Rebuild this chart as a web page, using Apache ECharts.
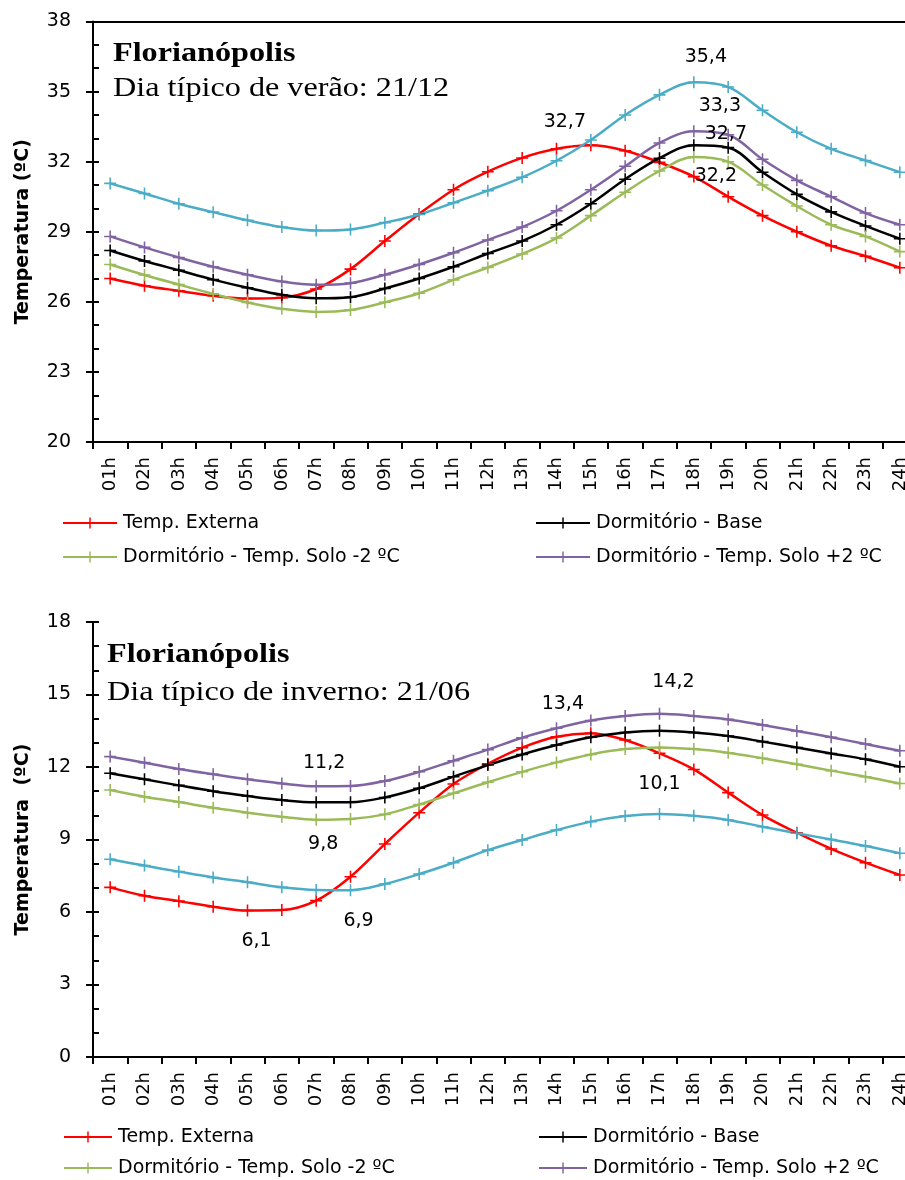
<!DOCTYPE html>
<html>
<head>
<meta charset="utf-8">
<script src="https://cdn.jsdelivr.net/npm/echarts@6/dist/echarts.min.js"></script>
<style>
  html, body { margin: 0; padding: 0; background: #fff; overflow: hidden; }
  #chart { width: 930px; height: 1180px; }
</style>
</head>
<body>
<div id="chart"></div>
<script>
// Hourly categories shared by both panels
const hours = ['01h','02h','03h','04h','05h','06h','07h','08h','09h','10h','11h','12h',
               '13h','14h','15h','16h','17h','18h','19h','20h','21h','22h','23h','24h'];

// Summer typical day (21/12), °C
const verExterna  = [27.0, 26.69, 26.47, 26.26, 26.14, 26.18, 26.55, 27.4, 28.6, 29.76, 30.8, 31.57,
                     32.16, 32.55, 32.7, 32.47, 31.97, 31.36, 30.5, 29.69, 29.0, 28.4, 27.95, 27.46];
const verBase     = [28.2, 27.75, 27.35, 26.95, 26.6, 26.3, 26.15, 26.2, 26.57, 27.0, 27.5, 28.07,
                     28.6, 29.3, 30.2, 31.25, 32.15, 32.7, 32.6, 31.55, 30.6, 29.85, 29.25, 28.7];
const verSoloM2   = [27.6, 27.15, 26.74, 26.34, 25.97, 25.7, 25.57, 25.65, 25.98, 26.37, 26.94, 27.47,
                     28.05, 28.73, 29.69, 30.69, 31.6, 32.2, 32.0, 31.0, 30.1, 29.3, 28.8, 28.15];
const verSoloP2   = [28.8, 28.33, 27.9, 27.5, 27.16, 26.87, 26.73, 26.8, 27.16, 27.6, 28.1, 28.65,
                     29.2, 29.9, 30.8, 31.8, 32.8, 33.3, 33.15, 32.1, 31.2, 30.5, 29.8, 29.3];
const verSerie5   = [31.07, 30.64, 30.2, 29.84, 29.49, 29.2, 29.05, 29.1, 29.39, 29.74, 30.24, 30.76,
                     31.33, 32.04, 32.93, 34.0, 34.86, 35.4, 35.2, 34.2, 33.26, 32.55, 32.05, 31.55];

// Winter typical day (21/06), °C
const invExterna  = [7.02, 6.67, 6.45, 6.22, 6.06, 6.08, 6.47, 7.46, 8.81, 10.11, 11.3, 12.13,
                     12.8, 13.25, 13.4, 13.12, 12.57, 11.9, 10.94, 10.01, 9.28, 8.61, 8.04, 7.53];
const invBase     = [11.74, 11.49, 11.24, 11.0, 10.8, 10.63, 10.54, 10.54, 10.74, 11.12, 11.6, 12.08,
                     12.52, 12.91, 13.23, 13.43, 13.5, 13.43, 13.28, 13.05, 12.81, 12.56, 12.32, 12.01];
const invSoloM2   = [11.05, 10.77, 10.55, 10.31, 10.11, 9.94, 9.82, 9.85, 10.04, 10.45, 10.91, 11.37,
                     11.8, 12.19, 12.52, 12.74, 12.81, 12.74, 12.59, 12.36, 12.11, 11.85, 11.6, 11.32];
const invSoloP2   = [12.43, 12.18, 11.92, 11.7, 11.49, 11.32, 11.2, 11.21, 11.42, 11.8, 12.26, 12.72,
                     13.21, 13.6, 13.92, 14.11, 14.2, 14.11, 13.97, 13.74, 13.49, 13.23, 12.95, 12.67];
const invSerie5   = [8.18, 7.92, 7.67, 7.43, 7.23, 7.02, 6.91, 6.9, 7.16, 7.57, 8.04, 8.56,
                     8.98, 9.39, 9.74, 9.97, 10.06, 9.98, 9.81, 9.53, 9.26, 9.0, 8.73, 8.43];

// Y-axis ticks
const verTicks = [20, 23, 26, 29, 32, 35, 38];
const invTicks = [0, 3, 6, 9, 12, 15, 18];

const names = {
  ext: 'Temp. Externa',
  base: 'Dormitório - Base',
  m2: 'Dormitório - Temp. Solo -2 ºC',
  p2: 'Dormitório - Temp. Solo +2 ºC',
  s5: 'Série 5'
};
const colors = { ext: '#ff0000', base: '#000000', m2: '#9bbb59', p2: '#8064a2', s5: '#4bacc6' };

const FONT = 'DejaVu Sans';
const plus = 'path://M4.35,0H5.65V4.35H10V5.65H5.65V10H4.35V5.65H0V4.35H4.35Z';

// Which points carry a value label, and how the label sits
const verLabels = {
  s5:   [{ hour: '18h', pos: 'top', offset: [12, -5] }],
  p2:   [{ hour: '18h', pos: 'top', offset: [26, -5] }],
  base: [{ hour: '18h', pos: 'top', offset: [32, 9] }],
  m2:   [{ hour: '18h', pos: 'bottom', offset: [22, -1] }],
  ext:  [{ hour: '15h', pos: 'top', offset: [-26, -3] }]
};
const invLabels = {
  ext:  [{ hour: '15h', pos: 'top', offset: [-28, -9] }, { hour: '05h', pos: 'bottom', offset: [9, 10] }],
  p2:   [{ hour: '17h', pos: 'top', offset: [14, -11] }, { hour: '07h', pos: 'top', offset: [8, -3] }],
  s5:   [{ hour: '17h', pos: 'top', offset: [0, -9] }, { hour: '08h', pos: 'bottom', offset: [8, 10] }],
  m2:   [{ hour: '07h', pos: 'bottom', offset: [7, 4] }]
};

const fmt = v => v.toFixed(1).replace('.', ',');

function buildData(values, specs) {
  return values.map((v, i) => {
    const spec = (specs || []).find(s => s.hour === hours[i]);
    if (!spec) return v;
    return {
      value: v,
      label: {
        show: true, position: spec.pos, offset: spec.offset,
        formatter: p => fmt(p.value),
        fontFamily: FONT, fontSize: 19, color: '#000'
      }
    };
  });
}

function makeSeries(key, values, specs, gridIdx) {
  return {
    type: 'line',
    name: names[key],
    xAxisIndex: gridIdx * 2,
    yAxisIndex: gridIdx * 2,
    data: buildData(values, specs),
    smooth: 0.35,
    symbol: plus,
    symbolSize: 12,
    showAllSymbol: true,
    lineStyle: { color: colors[key], width: 2.5 },
    itemStyle: { color: colors[key] },
    emphasis: { disabled: true },
    animation: false,
    z: 3
  };
}

const grids = [
  { left: 93, top: 21.5, width: 824, height: 420.5 },
  { left: 93, top: 622, width: 824, height: 435 }
];

function xAxes(gridIdx) {
  return [
    {
      type: 'category', data: hours, gridIndex: gridIdx, position: 'bottom',
      boundaryGap: true,
      axisLine: { lineStyle: { color: '#000', width: 2 } },
      axisTick: { show: true, length: 7, lineStyle: { color: '#000', width: 2 } },
      axisLabel: { rotate: 90, margin: 15, fontFamily: FONT, fontSize: 18, color: '#000', interval: 0 },
      splitLine: { show: false }
    },
    {
      type: 'category', data: hours, gridIndex: gridIdx, position: 'top',
      axisLine: { lineStyle: { color: '#000', width: 2 } },
      axisTick: { show: false }, axisLabel: { show: false }, splitLine: { show: false }
    }
  ];
}

function yAxes(gridIdx, ticks, title) {
  const min = ticks[0], max = ticks[ticks.length - 1], step = ticks[1] - ticks[0];
  return [
    {
      type: 'value', gridIndex: gridIdx, min, max, interval: step,
      name: title, nameLocation: 'middle', nameRotate: 90, nameGap: 60,
      nameTextStyle: { fontFamily: FONT, fontWeight: 'bold', fontSize: 19, color: '#000' },
      axisLine: { show: true, lineStyle: { color: '#000', width: 2 } },
      axisTick: { show: true, length: 7, lineStyle: { color: '#000', width: 2 } },
      axisLabel: { margin: 22, fontFamily: FONT, fontSize: 19, color: '#000' },
      splitLine: { show: false }
    },
    {
      // unit ticks drawn on the inner side of the axis
      type: 'value', gridIndex: gridIdx, min, max, interval: 1, position: 'left',
      axisLine: { show: false },
      axisTick: { show: true, inside: true, length: 6, lineStyle: { color: '#000', width: 2 } },
      axisLabel: { show: false },
      splitLine: { show: false }
    }
  ];
}

function legends(top, gap, leftCol, rightCol, iconW) {
  const common = {
    orient: 'vertical', top, itemWidth: iconW, itemHeight: 14, itemGap: gap,
    padding: 0, selectedMode: false,
    textStyle: { fontFamily: FONT, fontSize: 19, color: '#000', lineHeight: 20, padding: [0, 0, 0, 1] }
  };
  return [
    Object.assign({}, common, { left: leftCol, data: [names.ext, names.m2] }),
    Object.assign({}, common, { left: rightCol, data: [names.base, names.p2] })
  ];
}

function titleText(x, y1, y2, line1, line2) {
  const style = { fill: '#000', fontFamily: 'Liberation Serif', fontSize: 28, verticalAlign: 'middle' };
  return [
    { type: 'text', x, y: y1, z: 10, scaleX: 1.15,
      style: Object.assign({}, style, { text: line1, fontWeight: 'bold' }) },
    { type: 'text', x, y: y2, z: 10, scaleX: 1.15,
      style: Object.assign({}, style, { text: line2 }) }
  ];
}

const series = [
  makeSeries('ext', verExterna, verLabels.ext, 0),
  makeSeries('base', verBase, verLabels.base, 0),
  makeSeries('m2', verSoloM2, verLabels.m2, 0),
  makeSeries('p2', verSoloP2, verLabels.p2, 0),
  makeSeries('s5', verSerie5, verLabels.s5, 0),
  makeSeries('ext', invExterna, invLabels.ext, 1),
  makeSeries('base', invBase, invLabels.base, 1),
  makeSeries('m2', invSoloM2, invLabels.m2, 1),
  makeSeries('p2', invSoloP2, invLabels.p2, 1),
  makeSeries('s5', invSerie5, invLabels.s5, 1)
];

const option = {
  backgroundColor: '#fff',
  animation: false,
  grid: grids,
  xAxis: [...xAxes(0), ...xAxes(1)],
  yAxis: [...yAxes(0, verTicks, 'Temperatura (ºC)'), ...yAxes(1, invTicks, 'Temperatura  (ºC)')],
  legend: [
    ...legends(513, 14, 62, 535, 54),
    ...legends(1127, 11, 63, 538, 48)
  ],
  graphic: [
    ...titleText(113, 54, 89, 'Florianópolis', 'Dia típico de verão: 21/12'),
    ...titleText(107, 655, 693, 'Florianópolis', 'Dia típico de inverno: 21/06')
  ],
  series
};

const chart = echarts.init(document.getElementById('chart'), null, { renderer: 'canvas' });
chart.setOption(option);
</script>
</body>
</html>
